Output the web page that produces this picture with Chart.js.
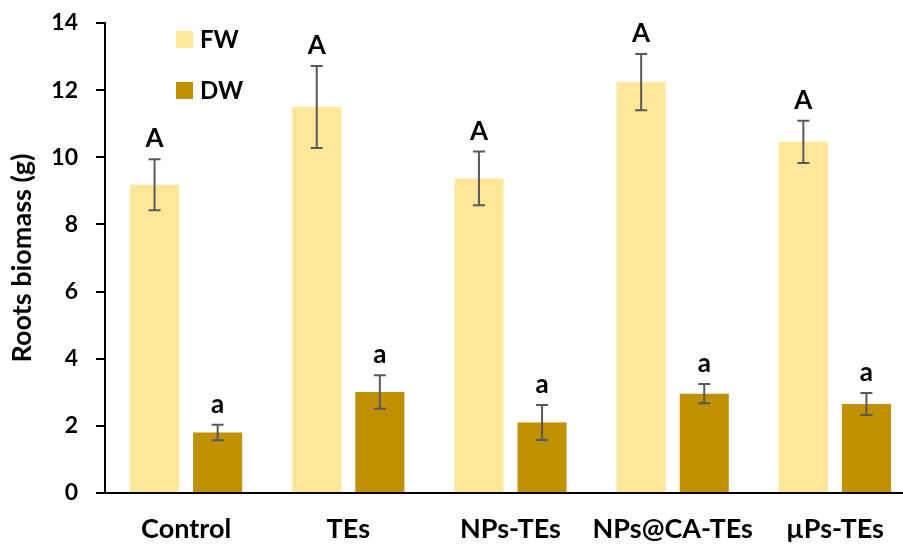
<!DOCTYPE html>
<html>
<head>
<meta charset="utf-8">
<script src="https://cdn.jsdelivr.net/npm/chart.js@4.4.0/dist/chart.umd.min.js"></script>
<style>
  html, body { margin: 0; padding: 0; background: #fff; overflow: hidden; }
  #wrap { width: 903px; height: 546px; overflow: hidden; }
</style>
</head>
<body>
<div id="wrap"><canvas id="rootsBar" width="916" height="546"></canvas></div>
<script>
// data
const categories = ['Control', 'TEs', 'NPs-TEs', 'NPs@CA-TEs', 'µPs-TEs'];
const fwValues = [9.18, 11.5, 9.37, 12.24, 10.46];
const fwErrors = [0.76, 1.22, 0.8, 0.84, 0.63];
const dwValues = [1.8, 3.01, 2.1, 2.96, 2.65];
const dwErrors = [0.23, 0.5, 0.52, 0.29, 0.33];
const fwLetters = ['A', 'A', 'A', 'A', 'A'];
const dwLetters = ['a', 'a', 'a', 'a', 'a'];

const FONT = 'Lato, "Open Sans", sans-serif';

// error bars + letters over each bar
const errorBars = {
    id: 'errorBars',
    afterDatasetsDraw(chart) {
        const ctx = chart.ctx;
        const y = chart.scales.y;
        chart.data.datasets.forEach((ds, i) => {
            const meta = chart.getDatasetMeta(i);
            meta.data.forEach((bar, j) => {
                const v = ds.data[j], e = ds.errors[j];
                const top = y.getPixelForValue(v + e);
                const bot = y.getPixelForValue(v - e);
                ctx.save();
                ctx.strokeStyle = '#595959';
                ctx.lineWidth = 2;
                ctx.beginPath();
                ctx.moveTo(bar.x, top); ctx.lineTo(bar.x, bot);
                ctx.moveTo(bar.x - 6, top); ctx.lineTo(bar.x + 6, top);
                ctx.moveTo(bar.x - 6, bot); ctx.lineTo(bar.x + 6, bot);
                ctx.stroke();
                ctx.fillStyle = '#000';
                ctx.font = 'bold 26px ' + FONT;
                ctx.textAlign = 'center';
                ctx.textBaseline = 'alphabetic';
                ctx.fillText(ds.letters[j], bar.x, top - 12);
                ctx.restore();
            });
        });
    }
};

// legend drawn inside the plot, stacked
const innerLegend = {
    id: 'innerLegend',
    afterDraw(chart) {
        const ctx = chart.ctx;
        chart.data.datasets.forEach((ds, i) => {
            const yy = 31 + i * 51;
            ctx.save();
            ctx.fillStyle = ds.backgroundColor;
            ctx.fillRect(176, yy, 17, 17);
            ctx.fillStyle = '#000';
            ctx.font = 'bold 24px ' + FONT;
            ctx.textBaseline = 'alphabetic';
            ctx.fillText(ds.label, 200, yy + 17);
            ctx.restore();
        });
    }
};

const data = {
    labels: categories,
    datasets: [{
        label: 'FW',
        data: fwValues,
        errors: fwErrors,
        letters: fwLetters,
        backgroundColor: '#FFE699',
        categoryPercentage: 0.778,
        barPercentage: 0.778
    }, {
        label: 'DW',
        data: dwValues,
        errors: dwErrors,
        letters: dwLetters,
        backgroundColor: '#BF9000',
        categoryPercentage: 0.778,
        barPercentage: 0.778
    }]
};

const config = {
    type: 'bar',
    data: data,
    plugins: [errorBars, innerLegend],
    options: {
        responsive: false,
        animation: false,
        layout: { padding: { top: 23, right: 0, left: 0, bottom: 0 } },
        plugins: {
            legend: { display: false },
            tooltip: { enabled: false }
        },
        scales: {
            x: {
                afterFit(scale) { scale.height = 53; },
                grid: { display: false, drawTicks: false },
                border: { color: '#000', width: 2 },
                ticks: {
                    color: '#000',
                    padding: 20,
                    maxRotation: 0,
                    minRotation: 0,
                    autoSkip: false,
                    font: { family: FONT, size: 27, weight: 'bold' }
                }
            },
            y: {
                min: 0,
                max: 14,
                afterFit(scale) { scale.width = 105; scale.paddingTop = 0; },
                grid: { drawOnChartArea: false, drawTicks: true, tickLength: 9, color: '#000', lineWidth: 2 },
                border: { color: '#000', width: 2 },
                ticks: {
                    stepSize: 2,
                    color: '#000',
                    padding: 18,
                    font: { family: FONT, size: 23, weight: 'bold' }
                },
                title: {
                    display: true,
                    text: 'Roots biomass (g)',
                    color: '#000',
                    padding: { top: 6, bottom: 0 },
                    font: { family: FONT, size: 27, weight: 'bold' }
                }
            }
        }
    }
};

const rootsBar = new Chart(document.getElementById('rootsBar'), config);
</script>
</body>
</html>
